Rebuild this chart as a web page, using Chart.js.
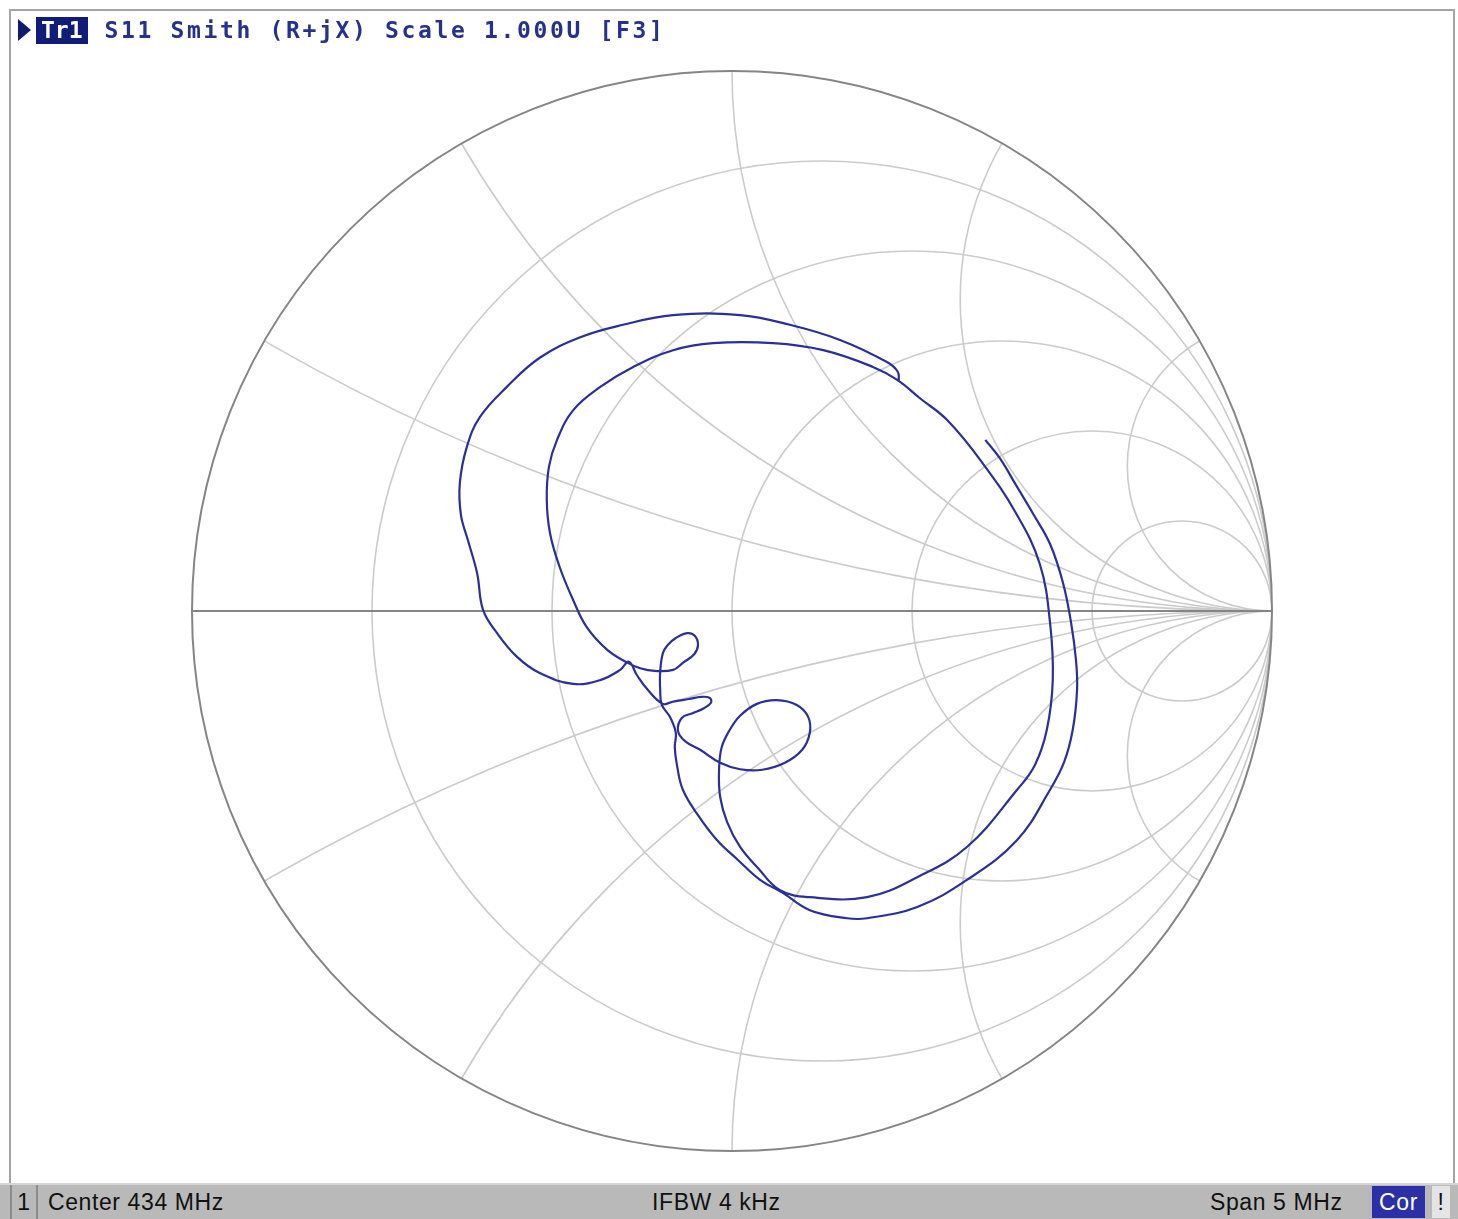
<!DOCTYPE html>
<html>
<head>
<meta charset="utf-8">
<script src="https://cdn.jsdelivr.net/npm/chart.js@4.4.1/dist/chart.umd.min.js"></script>
<style>
  html, body { margin: 0; padding: 0; background: #fff; }
  #wrap { position: relative; width: 1458px; height: 1219px; overflow: hidden; }
  #smith { position: absolute; left: 0; top: 0; }
  #frame { position: absolute; left: 9px; top: 9px; width: 1446px; height: 1174px; border: 2px solid #a4a4a4; border-bottom: none; box-sizing: border-box; }
  #title { position: absolute; left: 18px; top: 14px; height: 32px; display: flex; align-items: center;
           font-family: "DejaVu Sans Mono", monospace; font-weight: bold; font-size: 23px; letter-spacing: 2.65px; color: #26318f; white-space: pre; }
  #title .arrow { width: 0; height: 0; border-top: 11px solid transparent; border-bottom: 11px solid transparent; border-left: 13px solid #0f1c6e; margin-right: 5px; }
  #title .tr { background: #0f1c78; color: #fff; padding: 0 5px; margin-right: 17px; letter-spacing: 0; line-height: 27px; }
  #status { position: absolute; left: 0; top: 1183px; width: 1458px; height: 36px; background: #b9b9b9; border-top: 2px solid #d6d6d6; box-sizing: border-box;
            font-family: "Liberation Sans", Arial, sans-serif; font-size: 23px; letter-spacing: 0.6px; color: #111; }
  #status span { position: absolute; top: 4px; }
  #status .cell1 { left: 10px; top: 0; width: 24px; height: 34px; border-right: 2px solid #8c8c8c; border-left: 2px solid #8c8c8c; text-align: center; line-height: 34px; }
  #status .cor { left: 1372px; top: 1px; width: 53px; height: 32px; background: #2b30a6; color: #fff; text-align: center; line-height: 32px; }
  #status .bang { left: 1432px; top: 1px; width: 18px; height: 32px; background: #e4e4e4; text-align: center; line-height: 32px; }
</style>
</head>
<body>
<div id="wrap">
  <canvas id="smith" width="1458" height="1219"></canvas>
  <div id="frame"></div>
  <div id="title"><span class="arrow"></span><span class="tr">Tr1</span>S11 Smith (R+jX) Scale 1.000U [F3]</div>
  <div id="status">
    <span class="cell1">1</span>
    <span style="left:48px">Center 434 MHz</span>
    <span style="left:652px">IFBW 4 kHz</span>
    <span style="left:1210px">Span 5 MHz</span>
    <span class="cor">Cor</span>
    <span class="bang">!</span>
  </div>
</div>
<script>
// Smith grid values
const rCircles = [0.2, 0.5, 1, 2, 5];
const xArcs = [0.268, 0.577, 1, 1.732, 3.732];

// S11 trace, reflection coefficient (real / imaginary), in sweep order
const traceRe = [
  0.469, 0.496, 0.526, 0.557, 0.589, 0.613, 0.628, 0.637, 0.639, 0.631,
  0.615, 0.589, 0.528, 0.435, 0.343, 0.250, 0.213, 0.144, 0.094, 0.052,
  0.011, -0.028, -0.063, -0.091, -0.102, -0.106, -0.104, -0.115, -0.130, -0.133,
  -0.133, -0.128, -0.119, -0.104, -0.083, -0.069, -0.063, -0.070, -0.091, -0.109,
  -0.143, -0.170, -0.193, -0.231, -0.269, -0.294, -0.319, -0.337, -0.343, -0.339,
  -0.324, -0.294, -0.244, -0.183, -0.109, -0.035, 0.076, 0.169, 0.261, 0.306,
  0.348, 0.398, 0.461, 0.526, 0.570, 0.589, 0.594, 0.583, 0.561, 0.528,
  0.435, 0.343, 0.250, 0.144, 0.089, 0.048, 0.015, -0.009, -0.022, -0.024,
  -0.019, -0.004, 0.015, 0.046, 0.083, 0.120, 0.141, 0.144, 0.130, 0.098,
  0.056, 0.015, -0.022, -0.059, -0.087, -0.100, -0.093, -0.072, -0.052, -0.039,
  -0.041, -0.057, -0.080, -0.110, -0.128, -0.156, -0.176, -0.191, -0.207, -0.244,
  -0.294, -0.356, -0.398, -0.435, -0.461, -0.472, -0.489, -0.502, -0.504, -0.491,
  -0.467, -0.417, -0.356, -0.281, -0.202, -0.109, 0.015, 0.107, 0.200, 0.287,
  0.307, 0.309
];
const traceIm = [
  0.317, 0.283, 0.233, 0.181, 0.124, 0.052, -0.022, -0.091, -0.146, -0.220,
  -0.280, -0.331, -0.424, -0.498, -0.548, -0.569, -0.569, -0.554, -0.522, -0.498,
  -0.461, -0.424, -0.378, -0.331, -0.285, -0.252, -0.226, -0.196, -0.174, -0.146,
  -0.113, -0.078, -0.063, -0.050, -0.041, -0.046, -0.063, -0.080, -0.096, -0.109,
  -0.111, -0.106, -0.096, -0.072, -0.030, 0.020, 0.081, 0.144, 0.206, 0.267,
  0.317, 0.372, 0.415, 0.452, 0.483, 0.496, 0.496, 0.483, 0.452, 0.428,
  0.394, 0.354, 0.278, 0.181, 0.087, -0.022, -0.128, -0.220, -0.285, -0.331,
  -0.437, -0.493, -0.530, -0.530, -0.517, -0.476, -0.437, -0.391, -0.344, -0.294,
  -0.252, -0.220, -0.194, -0.172, -0.165, -0.174, -0.196, -0.226, -0.257, -0.281,
  -0.294, -0.293, -0.281, -0.257, -0.241, -0.222, -0.198, -0.189, -0.180, -0.170,
  -0.161, -0.159, -0.163, -0.168, -0.172, -0.146, -0.119, -0.094, -0.109, -0.128,
  -0.135, -0.115, -0.085, -0.041, 0.002, 0.070, 0.131, 0.178, 0.237, 0.304,
  0.359, 0.415, 0.469, 0.507, 0.530, 0.548, 0.548, 0.530, 0.502, 0.461,
  0.443, 0.426
];

// grid of the Smith chart, drawn through the chart scales
const smithGrid = {
  id: 'smithGrid',
  beforeDatasetsDraw(chart) {
    const { ctx, scales: { x, y } } = chart;
    const px = v => x.getPixelForValue(v);
    const py = v => y.getPixelForValue(v);
    const unit = px(1) - px(0);

    ctx.save();
    ctx.beginPath();
    ctx.arc(px(0), py(0), unit, 0, 2 * Math.PI);
    ctx.clip();
    ctx.strokeStyle = '#cbcbcb';
    ctx.lineWidth = 1.6;
    rCircles.forEach(r => {
      ctx.beginPath();
      ctx.arc(px(r / (1 + r)), py(0), unit / (1 + r), 0, 2 * Math.PI);
      ctx.stroke();
    });
    xArcs.forEach(xv => {
      [xv, -xv].forEach(s => {
        ctx.beginPath();
        ctx.arc(px(1), py(1 / s), unit / Math.abs(s), 0, 2 * Math.PI);
        ctx.stroke();
      });
    });
    ctx.restore();

    ctx.save();
    ctx.strokeStyle = '#858585';
    ctx.lineWidth = 2;
    ctx.beginPath();
    ctx.moveTo(px(-1), py(0));
    ctx.lineTo(px(1), py(0));
    ctx.stroke();
    ctx.beginPath();
    ctx.arc(px(0), py(0), unit, 0, 2 * Math.PI);
    ctx.stroke();
    ctx.restore();
  }
};

new Chart(document.getElementById('smith'), {
  type: 'scatter',
  data: {
    datasets: [{
      label: 'S11',
      data: traceRe.map((re, i) => ({ x: re, y: traceIm[i] })),
      showLine: true,
      borderColor: '#2a2f9c',
      borderWidth: 2.2,
      pointRadius: 0,
      tension: 0.4,
      fill: false
    }]
  },
  options: {
    responsive: false,
    animation: false,
    layout: { padding: { left: 192, right: 186, top: 71, bottom: 68 } },
    plugins: { legend: { display: false }, tooltip: { enabled: false } },
    scales: {
      x: { type: 'linear', min: -1, max: 1, display: false },
      y: { type: 'linear', min: -1, max: 1, display: false }
    }
  },
  plugins: [smithGrid]
});
</script>
</body>
</html>
